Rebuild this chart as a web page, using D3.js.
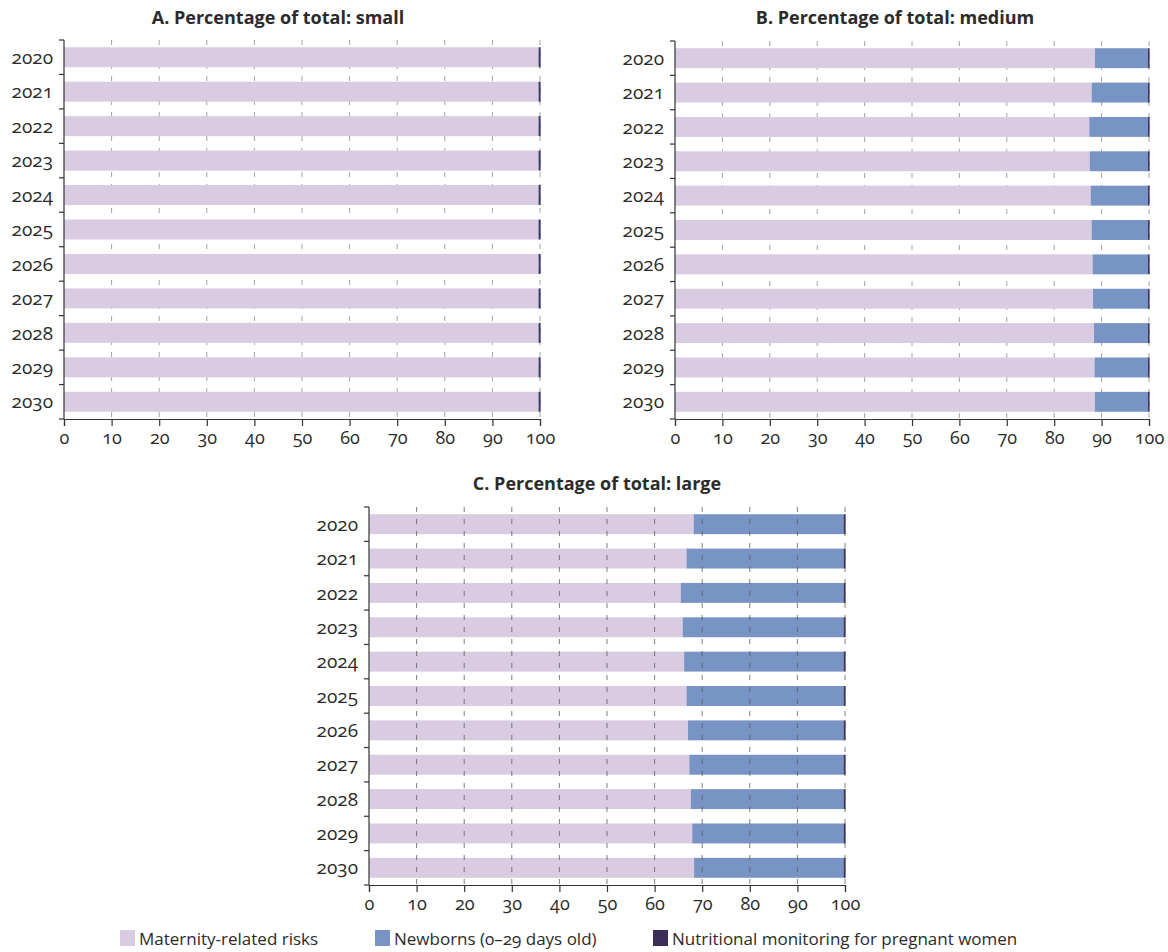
<!DOCTYPE html>
<html>
<head>
<meta charset="utf-8">
<script src="https://cdn.jsdelivr.net/npm/d3@7"></script>
<style>
  html, body { margin: 0; padding: 0; background: #fff; }
  svg text { font-family: "Open Sans", "Noto Sans", sans-serif; fill: #2b2b2b; font-feature-settings: "onum"; }
</style>
</head>
<body>
<svg id="chart" width="1168" height="952"></svg>
<script>
const years = ["2020","2021","2022","2023","2024","2025","2026","2027","2028","2029","2030"];
const seriesNames = ["Maternity-related risks", "Newborns (0–29 days old)", "Nutritional monitoring for pregnant women"];
const xTicks = [0,10,20,30,40,50,60,70,80,90,100];

// Panel A: small
const smallMaternity = [99.6,99.6,99.6,99.6,99.6,99.6,99.6,99.6,99.6,99.6,99.6];
const smallNewborns  = [0.2,0.2,0.2,0.2,0.2,0.2,0.2,0.2,0.2,0.2,0.2];
const smallNutrition = [0.2,0.2,0.2,0.2,0.2,0.2,0.2,0.2,0.2,0.2,0.2];

// Panel B: medium
const mediumMaternity = [88.6,87.9,87.4,87.5,87.7,87.9,88.1,88.2,88.4,88.5,88.6];
const mediumNewborns  = [11.2,11.9,12.4,12.3,12.1,11.9,11.7,11.6,11.4,11.3,11.2];
const mediumNutrition = [0.2,0.2,0.2,0.2,0.2,0.2,0.2,0.2,0.2,0.2,0.2];

// Panel C: large
const largeMaternity = [68.2,66.7,65.5,65.9,66.2,66.7,67.0,67.3,67.6,67.9,68.3];
const largeNewborns  = [31.5,33.0,34.2,33.8,33.5,33.0,32.7,32.4,32.1,31.8,31.4];
const largeNutrition = [0.3,0.3,0.3,0.3,0.3,0.3,0.3,0.3,0.3,0.3,0.3];

const colors = ["#d9cbe2", "#7894c4", "#3b2d58"];

const svg = d3.select("#chart");
svg.append("rect").attr("width",1168).attr("height",952).attr("fill","#fff");

function panel(cfg) {
  const { title, titleX, titleY, x0, x1, y0, y1, mat, nb, nut, gridOnTop } = cfg;
  const g = svg.append("g");
  const x = d3.scaleLinear().domain([0,100]).range([x0,x1]);
  const y = d3.scaleBand().domain(years).range([y0,y1]).paddingInner(0.42).paddingOuter(0.21);

  g.append("text").attr("x", titleX).attr("y", titleY).attr("text-anchor","middle")
    .style("font-size","18px").style("font-weight","bold").text(title);

  const stackData = years.map((yr,i) => ({ year: yr, s0: mat[i], s1: nb[i], s2: nut[i] }));
  const stacked = d3.stack().keys(["s0","s1","s2"])(stackData);

  function drawGrid(layer, opacity, color) {
    layer.selectAll("line.grid").data(xTicks.filter(t => t > 0)).join("line")
      .attr("x1", d => x(d)).attr("x2", d => x(d))
      .attr("y1", y0).attr("y2", y1)
      .attr("stroke", color).attr("stroke-width", 1)
      .attr("stroke-dasharray", "5,7").attr("opacity", opacity);
  }

  if (!gridOnTop) drawGrid(g.append("g"), 0.9, "#9a9a9a");

  const barsG = g.append("g");
  stacked.forEach((layer, k) => {
    barsG.append("g").attr("fill", colors[k]).selectAll("rect").data(layer).join("rect")
      .attr("x", d => x(d[0]))
      .attr("y", d => y(d.data.year))
      .attr("width", d => Math.max(0, x(d[1]) - x(d[0])) + (k === 2 ? 0.6 : 0))
      .attr("height", y.bandwidth());
  });

  if (gridOnTop) drawGrid(g.append("g"), 0.75, "#555");

  // x axis
  const xAxis = d3.axisBottom(x).tickValues(xTicks).tickSize(7).tickPadding(5).tickFormat(d3.format("d"));
  const xg = g.append("g").attr("transform", `translate(0,${y1})`).call(xAxis);
  xg.select(".domain").attr("stroke", "#333").attr("stroke-width", 1.2);
  xg.selectAll(".tick line").attr("stroke", "#333").attr("stroke-width", 1.2);
  xg.selectAll("text").style("font-size","18px").attr("fill","#2b2b2b");

  // y axis: line with ticks at band boundaries
  g.append("line").attr("x1", x0).attr("x2", x0).attr("y1", y0).attr("y2", y1)
    .attr("stroke", "#333").attr("stroke-width", 1.2);
  const step = y.step();
  const boundaries = years.map((yr) => y(yr) - step * 0.21).concat([y1]);
  g.selectAll("line.ytick").data(boundaries).join("line")
    .attr("x1", x0 - 5).attr("x2", x0).attr("y1", d => d).attr("y2", d => d)
    .attr("stroke", "#333").attr("stroke-width", 1.2);
  g.selectAll("text.ylab").data(years).join("text")
    .attr("x", x0 - 11).attr("y", d => y(d) + y.bandwidth()/2)
    .attr("dy", "0.35em").attr("text-anchor", "end")
    .style("font-size","19px").text(d => d);
}

panel({ title: "A. Percentage of total: small", titleX: 278, titleY: 24, x0: 64, x1: 540, y0: 40, y1: 419,
        mat: smallMaternity, nb: smallNewborns, nut: smallNutrition, gridOnTop: false });
panel({ title: "B. Percentage of total: medium", titleX: 895, titleY: 24, x0: 675, x1: 1149, y0: 41, y1: 419,
        mat: mediumMaternity, nb: mediumNewborns, nut: mediumNutrition, gridOnTop: false });
panel({ title: "C. Percentage of total: large", titleX: 597, titleY: 490, x0: 369, x1: 845, y0: 507, y1: 885,
        mat: largeMaternity, nb: largeNewborns, nut: largeNutrition, gridOnTop: true });

// Legend
const legendX = [120, 375, 653];
const lg = svg.append("g");
seriesNames.forEach((name, i) => {
  lg.append("rect").attr("x", legendX[i]).attr("y", 930).attr("width", 15).attr("height", 16).attr("fill", colors[i]);
  lg.append("text").attr("x", legendX[i] + 19).attr("y", 945).style("font-size","17px").text(name);
});
</script>
</body>
</html>
